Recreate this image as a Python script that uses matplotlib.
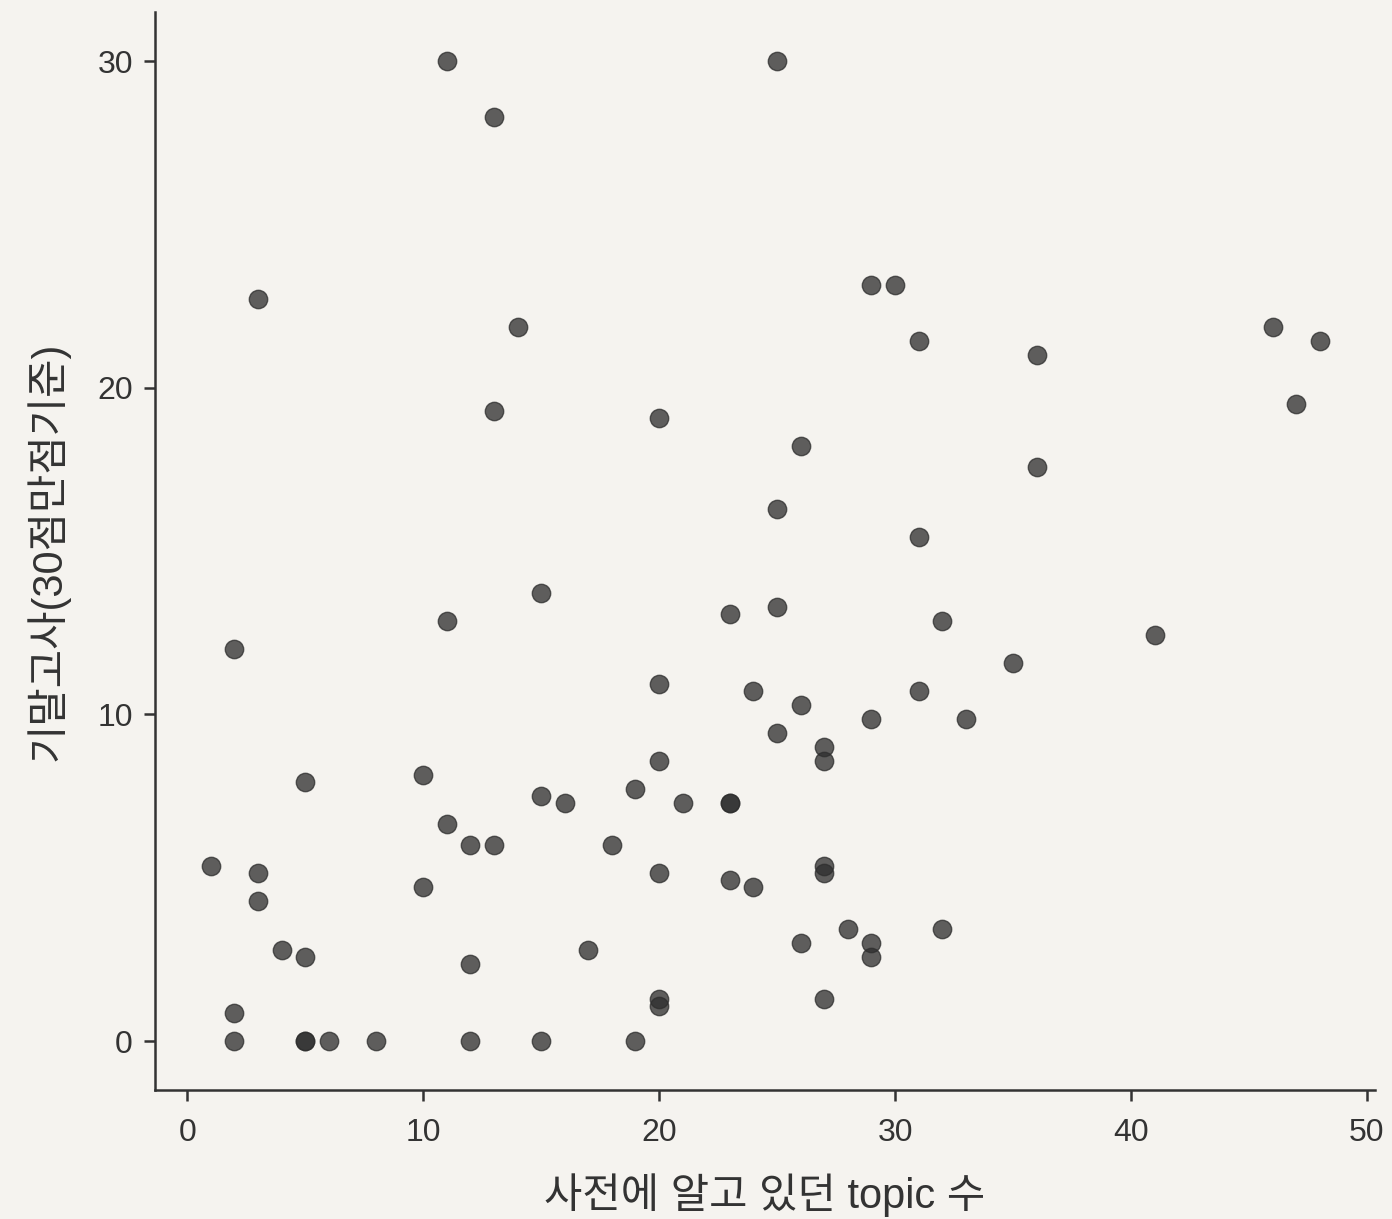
import matplotlib.pyplot as plt
import numpy as np

plt.rcParams['font.family'] = ['Liberation Sans', 'Noto Sans CJK KR', 'DejaVu Sans']

# topics known beforehand (x) and final exam score scaled to 30 (y)
topics = [11, 25, 13, 3, 14, 29, 30, 31, 36, 46, 48, 47, 13, 20, 26, 36, 25, 31,
          15, 23, 25, 11, 32, 2, 41, 35, 20, 24, 31, 26, 29, 33, 25, 27, 27, 20,
          5, 10, 15, 16, 19, 21, 23, 23, 11, 12, 13, 18, 1, 3, 3, 10, 20, 23,
          24, 27, 27, 4, 5, 12, 17, 26, 28, 29, 29, 32, 2, 20, 20, 27,
          2, 5, 5, 6, 8, 12, 15, 19]
scores = [30.0, 30.0, 28.29, 22.71, 21.86, 23.14, 23.14, 21.43, 21.0, 21.86, 21.43, 19.5,
          19.29, 19.07, 18.21, 17.57, 16.29, 15.43, 13.71, 13.07, 13.29, 12.86, 12.86, 12.0,
          12.43, 11.57, 10.93, 10.71, 10.71, 10.29, 9.86, 9.86, 9.43, 9.0, 8.57, 8.57,
          7.93, 8.14, 7.5, 7.29, 7.71, 7.29, 7.29, 7.29, 6.64, 6.0, 6.0, 6.0,
          5.36, 5.14, 4.29, 4.71, 5.14, 4.93, 4.71, 5.36, 5.14, 2.79, 2.57, 2.36,
          2.79, 3.0, 3.43, 3.0, 2.57, 3.43, 0.86, 1.29, 1.07, 1.29,
          0.0, 0.0, 0.0, 0.0, 0.0, 0.0, 0.0, 0.0]

bg = '#f5f3ef'
fig = plt.figure(figsize=(13.92, 12.19), dpi=100, facecolor=bg)
ax = fig.add_axes([0.1114, 0.1058, 0.8764, 0.8842], facecolor=bg)

ax.scatter(topics, scores, s=175, color='#2e2e2e', alpha=0.76,
           edgecolors='#2e2e2e', linewidths=1.0, zorder=3)

ax.set_xlim(-1.36, 50.34)
ax.set_ylim(-1.5, 31.5)
ax.set_xticks([0, 10, 20, 30, 40, 50])
ax.set_yticks([0, 10, 20, 30])

for s in ['top', 'right']:
    ax.spines[s].set_visible(False)
for s in ['left', 'bottom']:
    ax.spines[s].set_color('#333333')
    ax.spines[s].set_linewidth(1.8)
ax.tick_params(axis='both', length=8, width=1.8, color='#333333',
               labelsize=23, labelcolor='#333333')
ax.tick_params(axis='x', pad=12)
ax.tick_params(axis='y', pad=8)

ax.set_xlabel('사전에 알고 있던 topic 수', fontsize=30, color='#333333', labelpad=18)
ax.set_ylabel('기말고사(30점만점기준)', fontsize=30, color='#333333', labelpad=20)

fig.savefig('out.png', dpi=100, facecolor=bg)
